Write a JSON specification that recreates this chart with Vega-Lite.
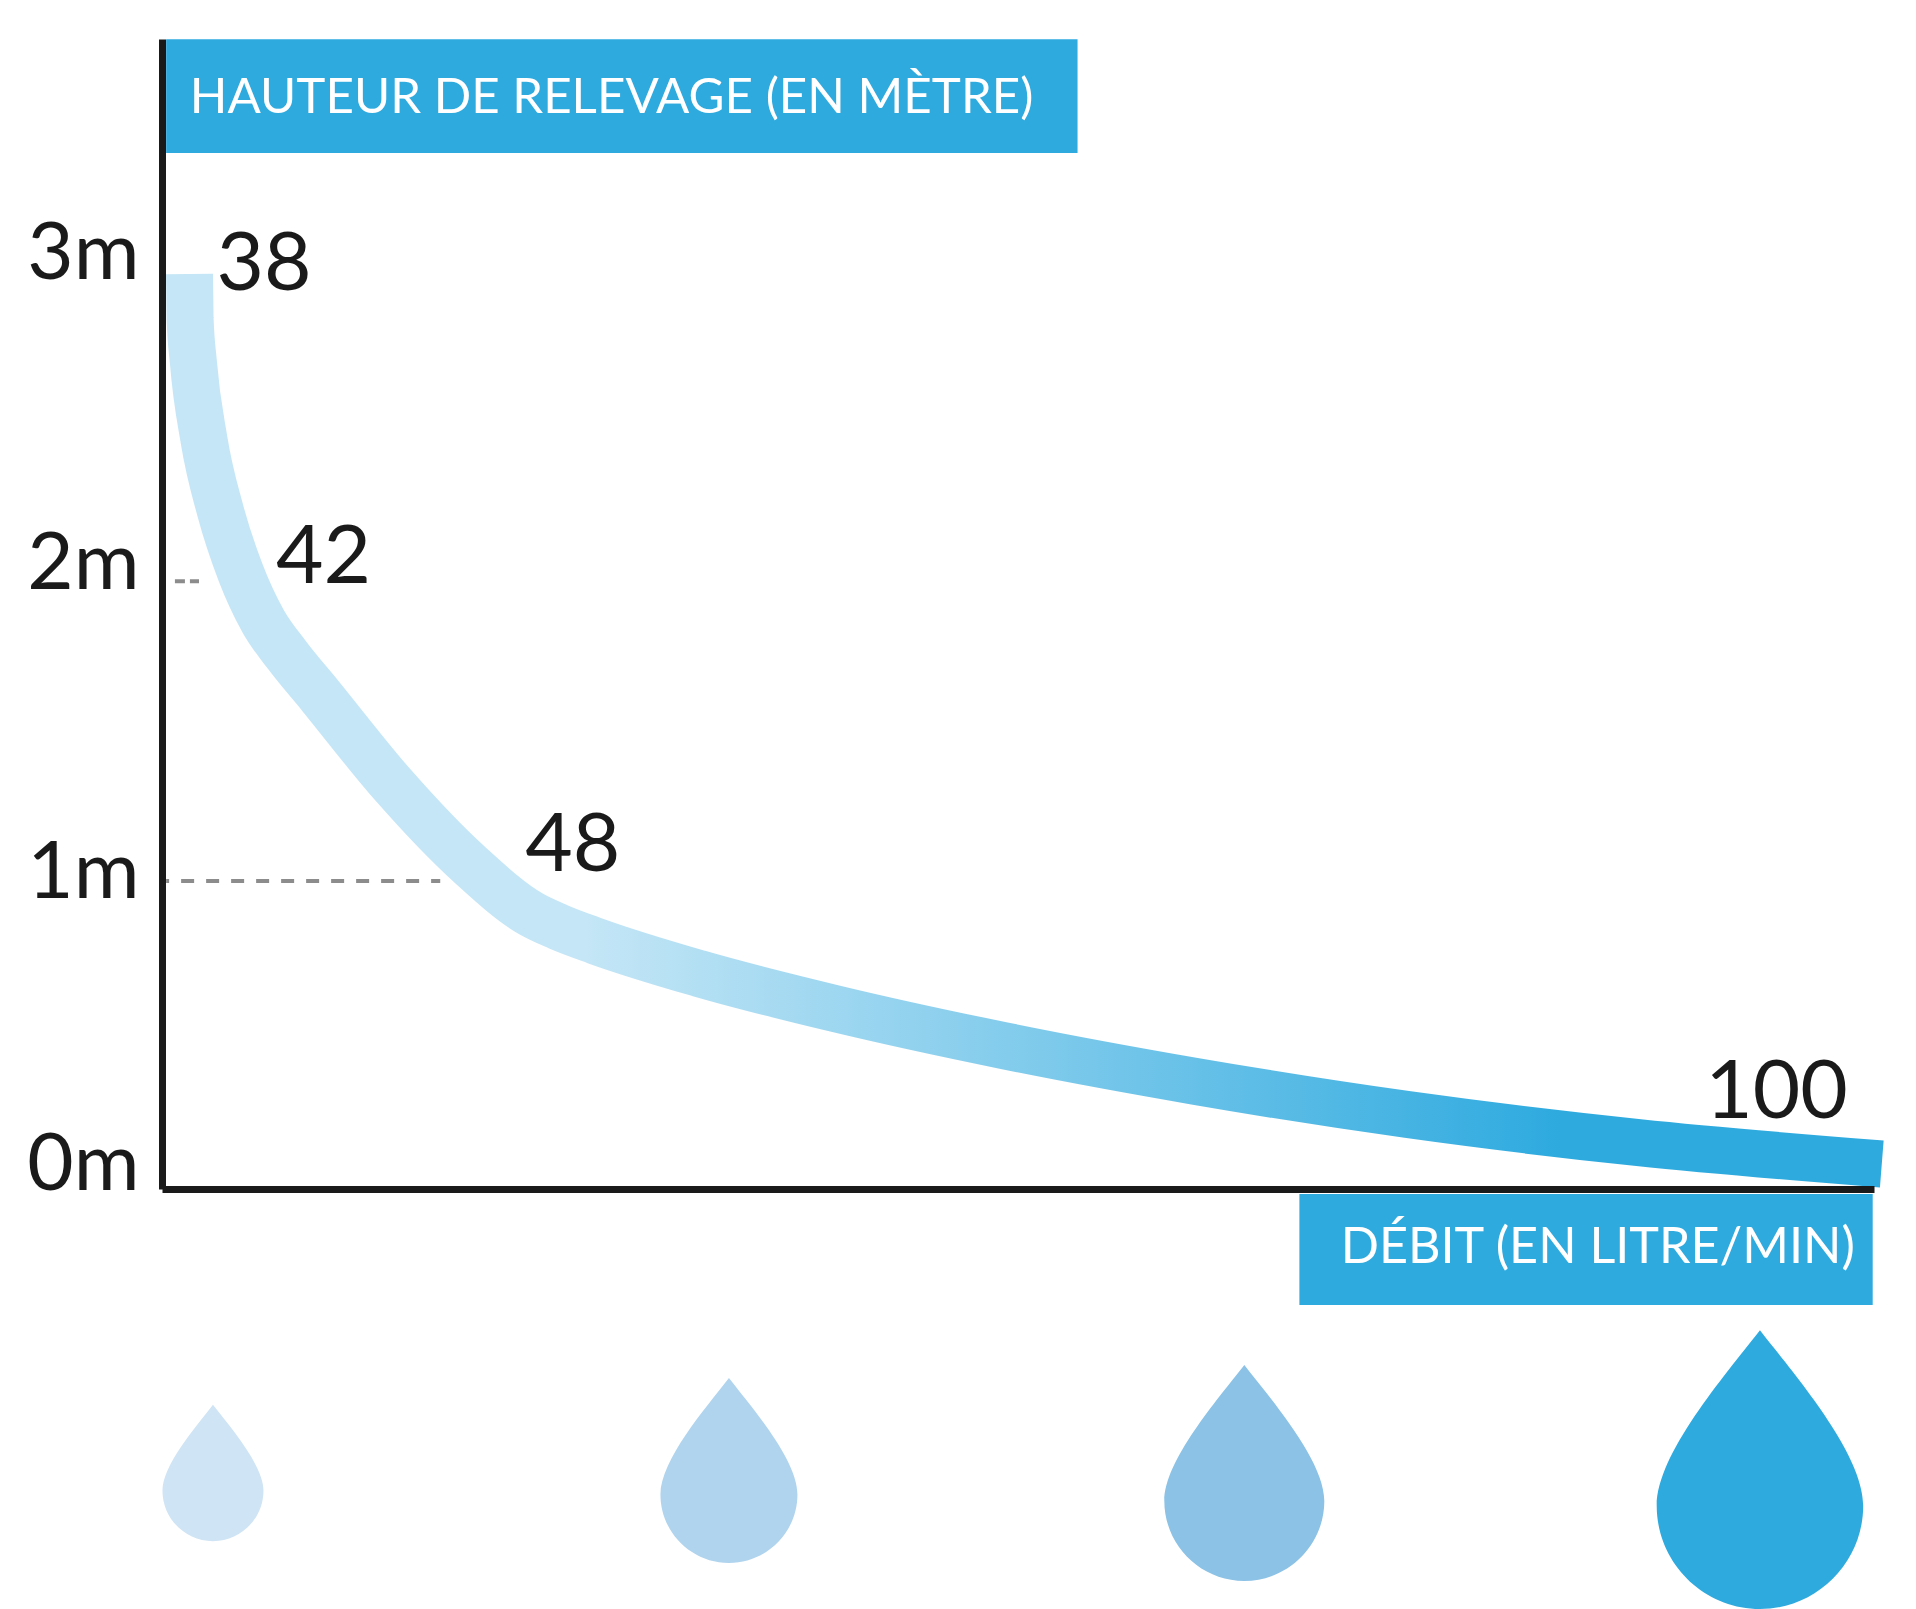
{"$schema":"https://vega.github.io/schema/vega-lite/v6.json","width":1712,"height":1150,"autosize":{"type":"none"},"padding":{"left":162,"top":39,"right":42,"bottom":420},"background":"white","config":{"view":{"stroke":null},"font":"Lato"},
"datasets":{
"courbe":[{"debit":38,"h":3.0},{"debit":38.03,"h":2.855},{"debit":38.2,"h":2.716},{"debit":38.78,"h":2.456},{"debit":39.66,"h":2.223},{"debit":40.75,"h":2.02},{"debit":41.95,"h":1.862},{"debit":42.52,"h":1.75},{"debit":43.26,"h":1.618},{"debit":44.89,"h":1.326},{"debit":46.61,"h":1.065},{"debit":48,"h":0.902},{"debit":49.04,"h":0.86},{"debit":50.49,"h":0.813},{"debit":54.45,"h":0.707},{"debit":59.73,"h":0.591},{"debit":66.17,"h":0.4705},{"debit":73.57,"h":0.353},{"debit":81.75,"h":0.244},{"debit":90.64,"h":0.152},{"debit":100,"h":0.082}],
"boites":[{"debit":37.15,"debit2":69.04,"h":3.77,"h2":3.397},{"debit":77.58,"debit2":99.65,"h":-0.016,"h2":-0.38}],
"pointilles":[{"debit":37.15,"debit2":45.96,"h":1.01,"serie":"1m"}],
"pointilles2":[{"debit":37.47,"debit2":38.51,"h":1.993,"serie":"2m"}],
"valeurs":[{"debit":39.45,"h":2.948,"texte":"38"},{"debit":42.27,"h":1.987,"texte":"42"},{"debit":47.87,"h":1.043,"texte":"48"},{"debit":93.2,"h":0.233,"texte":"100"}],
"titre1":[{"debit":38.02,"h":3.528,"texte":"HAUTEUR DE RELEVAGE (EN MÈTRE)"}],
"titre2":[{"debit":79.17,"h":-0.243,"texte":"DÉBIT (EN LITRE/MIN)"}],
"gouttes":[{"debit":39.26,"h":-0.931,"goutte":"a"},{"debit":55.62,"h":-0.923,"goutte":"b"},{"debit":75.46,"h":-0.931,"goutte":"c"},{"debit":95.31,"h":-0.92,"goutte":"d"}]
},
"encoding":{
"x":{"field":"debit","type":"quantitative","title":null,"scale":{"type":"linear","domain":[37,38,42,48,99.7],"range":[0,27.5,102,369,1712],"nice":false,"zero":false},"axis":{"domainColor":"#1a1a1a","domainWidth":7,"ticks":false,"labels":false,"grid":false,"zindex":1,"title":null}},
"y":{"field":"h","type":"quantitative","title":null,"scale":{"domain":[0,3.7705],"nice":false,"zero":false},"axis":{"values":[0,1,2,3],"domainColor":"#1a1a1a","domainWidth":7,"ticks":false,"grid":false,"zindex":1,"title":null,"labelExpr":"datum.value + 'm'","labelFontSize":80,"labelColor":"#1a1a1a","labelFont":"Lato","labelBaseline":"alphabetic","labelPadding":23,"labelAlign":"right","labelOffset":{"expr":"datum.value==0?0:datum.value==1?13:datum.value==2?9:4"}}}
},
"layer":[
{"data":{"name":"boites"},"mark":{"type":"rect","color":"#2EAADF"},"encoding":{"x2":{"field":"debit2"},"y2":{"field":"h2"}}},
{"data":{"name":"pointilles"},"mark":{"type":"rule","color":"#8C8C8C","strokeWidth":4,"strokeDash":[13,12],"strokeDashOffset":10},"encoding":{"x2":{"field":"debit2"}}},
{"data":{"name":"pointilles2"},"mark":{"type":"rule","color":"#8C8C8C","strokeWidth":4,"strokeDash":[10,5]},"encoding":{"x2":{"field":"debit2"}}},
{"data":{"name":"courbe"},"mark":{"type":"line","interpolate":"monotone","strokeWidth":47,"strokeCap":"butt","strokeJoin":"round","stroke":{"gradient":"linear","x1":0,"y1":0,"x2":1,"y2":0,"stops":[{"offset":0,"color":"#C4E6F6"},{"offset":0.235,"color":"#C4E6F6"},{"offset":0.81,"color":"#2EAADF"},{"offset":1,"color":"#2EAADF"}]}}},
{"data":{"name":"valeurs"},"mark":{"type":"text","align":"left","baseline":"alphabetic","fontSize":82,"color":"#1a1a1a","font":"Lato"},"encoding":{"text":{"field":"texte"}}},
{"data":{"name":"titre1"},"mark":{"type":"text","align":"left","baseline":"alphabetic","fontSize":49.3,"color":"white","font":"Lato"},"encoding":{"text":{"field":"texte"}}},
{"data":{"name":"titre2"},"mark":{"type":"text","align":"left","baseline":"alphabetic","fontSize":50.3,"color":"white","font":"Lato"},"encoding":{"text":{"field":"texte"}}},
{"data":{"name":"gouttes"},"mark":{"type":"point","filled":true,"opacity":1,"strokeWidth":0,"shape":"M0,-1.35 C-0.35,-0.9 -1,-0.15 -1,0.35 C-1,0.9 -0.55,1.35 0,1.35 C0.55,1.35 1,0.9 1,0.35 C1,-0.15 0.35,-0.9 0,-1.35 Z"},"encoding":{"size":{"field":"goutte","type":"nominal","legend":null,"scale":{"type":"ordinal","domain":["a","b","c","d"],"range":[10201,18769,25600,42642]}},"color":{"field":"goutte","type":"nominal","legend":null,"scale":{"domain":["a","b","c","d"],"range":["#CFE4F4","#B0D4EE","#8BC2E6","#2EAADF"]}}}}
]}
